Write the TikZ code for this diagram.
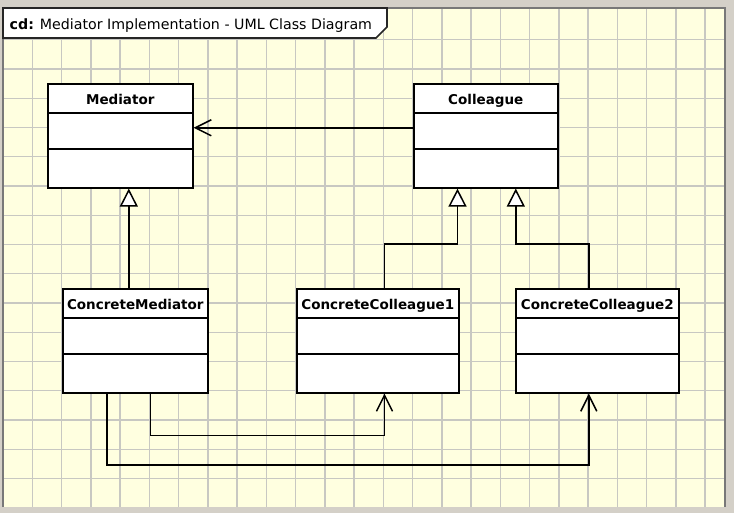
\documentclass[tikz,border=0pt]{standalone}
\usepackage{fontspec}
\setmainfont{DejaVu Sans}
\usetikzlibrary{arrows.meta,calc}
\definecolor{bgyellow}{RGB}{255,255,224}
\definecolor{outergrey}{RGB}{212,208,200}
\definecolor{gridgrey}{RGB}{200,200,194}
\definecolor{bordergrey}{RGB}{120,120,120}
\tikzset{
  gridline/.style={draw=gridgrey, line width=1.4pt},
  panelborder/.style={draw=bordergrey, line width=1.6pt},
  classbox/.style={draw=black, fill=white, line width=1.6pt, minimum height=104pt, inner sep=0pt, anchor=north west},
  classname/.style={font=\fontsize{13.5}{16}\selectfont\bfseries, inner sep=0pt, anchor=base},
  compline/.style={draw=black, line width=1.6pt},
  titletab/.style={draw=black!85, fill=white, line width=1.6pt},
  titletext/.style={font=\fontsize{14.2}{17}\selectfont, inner sep=0pt, anchor=base west},
  conn/.style={draw=black, line width=1.5pt},
  gen/.style={conn, -{Triangle[length=18pt, width=18pt, fill=white]}},
  assoc/.style={conn, -{Straight Barb[length=16pt, width=16pt]}},
}
\newcommand\umlclassbox[5]{%
  \node[classbox, minimum width=#4] (#1) at (#2,#3) {};
  \draw[compline] ([yshift=-30pt]#1.north west) -- ([yshift=-30pt]#1.north east);
  \draw[compline] ([yshift=-66pt]#1.north west) -- ([yshift=-66pt]#1.north east);
  \node[classname] (#1name) at ([yshift=-21.5pt]#1.north) {#5};
}
\begin{document}
\begin{tikzpicture}[x=1pt, y=-1pt]
\useasboundingbox (0,0) rectangle (734,513);
\fill[outergrey] (0,0) rectangle (734,513);
\fill[bgyellow] (3,8) rectangle (725,507);
\foreach \k in {0,...,23} \draw[gridline] ({32.3+29.25*\k},8) -- ({32.3+29.25*\k},507);
\foreach \k in {0,...,15} \draw[gridline] (3,{39.75+29.25*\k}) -- (725,{39.75+29.25*\k});
\draw[panelborder] (3,507) -- (3,8) -- (725,8) -- (725,507);

% title tab
\draw[titletab] (3,8) -- (387,8) -- (387,27) -- (376,38) -- (3,38) -- cycle;
\node[titletext] (title) at (9.5,30) {\textbf{cd:} Mediator Implementation - UML Class Diagram};

% classes
\umlclassbox{med}{47}{83}{145pt}{Mediator}
\umlclassbox{col}{413}{83}{144pt}{Colleague}
\umlclassbox{cm}{62}{288}{145pt}{ConcreteMediator}
\umlclassbox{cca}{296}{288}{162pt}{ConcreteColleague1}
\umlclassbox{ccb}{515}{288}{163pt}{ConcreteColleague2}

% association Colleague -> Mediator
\draw[assoc] ([yshift=8pt]col.west) -- ([yshift=8pt]med.west -| med.east);

% generalizations
\draw[gen] ([xshift=-6.5pt]cm.north) -- ([xshift=-6.5pt]cm.north |- med.south);
\draw[gen] ([xshift=6.7pt]cca.north) -- ++(0,-44) -| ([xshift=-28.3pt]col.south);
\draw[gen] ([xshift=-8.5pt]ccb.north) -- ++(0,-44) -| ([xshift=30pt]col.south);

% associations ConcreteMediator -> ConcreteColleagues
\draw[assoc] ([xshift=15pt]cm.south) -- ++(0,42) -| ([xshift=6.7pt]cca.south);
\draw[assoc] ([xshift=-28.5pt]cm.south) -- ++(0,71.3) -| ([xshift=-8.5pt]ccb.south);
\end{tikzpicture}
\end{document}
